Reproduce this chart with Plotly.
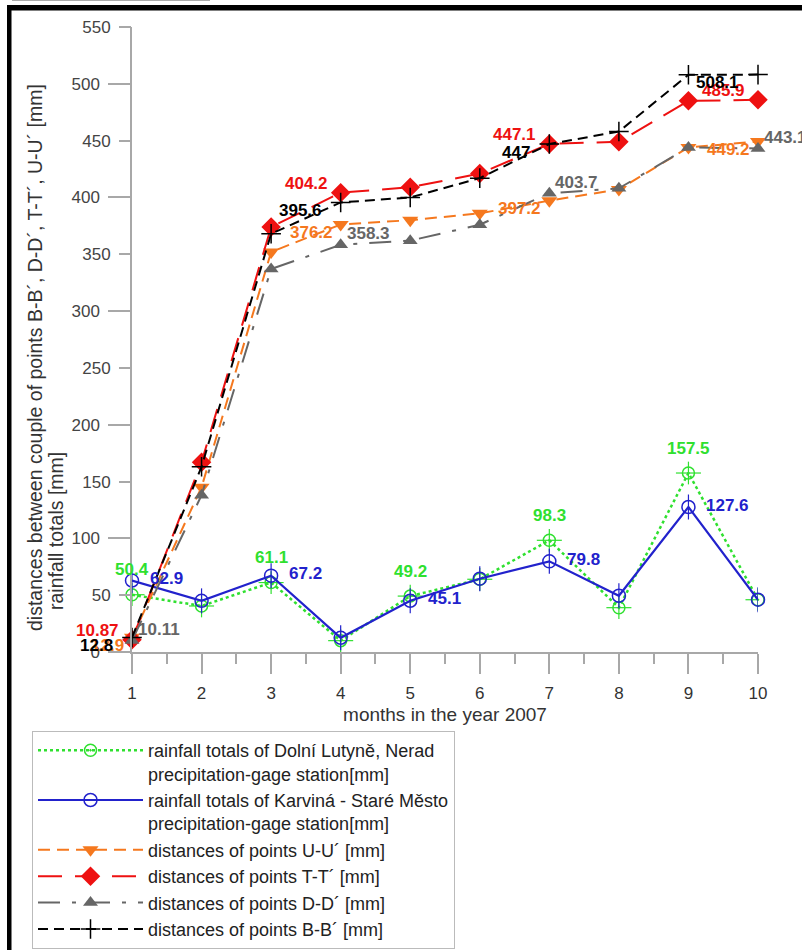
import plotly.graph_objects as go

# ---------------- data ----------------
months = [1, 2, 3, 4, 5, 6, 7, 8, 9, 10]
month_ticks = ["1", "2", "3", "4", "5", "6", "7", "8", "9", "10"]

dolni = [50.4, 40.5, 61.1, 10.0, 49.2, 64.0, 98.3, 39.0, 157.5, 46.0]
karvina = [62.9, 45.0, 67.2, 12.5, 45.1, 64.5, 79.8, 49.5, 127.6, 46.0]
uu = [12.9, 145.0, 352.0, 376.2, 380.0, 386.0, 397.2, 407.0, 444.0, 449.2]
tt = [10.87, 167.0, 374.0, 404.2, 409.0, 421.0, 447.1, 449.0, 485.0, 485.9]
dd = [10.11, 138.0, 337.0, 358.3, 362.0, 376.0, 403.7, 408.0, 444.0, 443.1]
bb = [12.8, 163.0, 368.0, 395.6, 400.0, 417.0, 447.0, 458.0, 508.0, 508.1]

rain_labeled = [0, 2, 4, 6, 8]
dist_labeled = [0, 3, 6, 9]

names = [
    "rainfall totals of Dolní Lutyně, Nerad<br>precipitation-gage station[mm]",
    "rainfall totals of Karviná - Staré Město<br>precipitation-gage station[mm]",
    "distances of points U-U´ [mm]",
    "distances of points T-T´ [mm]",
    "distances of points D-D´ [mm]",
    "distances of points B-B´ [mm]",
]

y_major = [0, 100, 200, 300, 400, 500]
y_minor = [50, 150, 250, 350, 450, 550]

# ---------------- styles ----------------
GREEN = "#2fe02f"
BLUE = "#2222cc"
ORANGE = "#f5781e"
RED = "#ee1111"
GRAY = "#666666"
BLACK = "#000000"
FONT = "Arial, Liberation Sans, sans-serif"

W, H = 802, 950
L, R, T, B = 132, 44, 27, 298
PW, PH = W - L - R, H - T - B


def px_x(px):
    return (px - L) / PW


def px_y(py):
    return (H - B - py) / PH


fig = go.Figure()

fig.add_trace(go.Scatter(
    x=months, y=dolni, name=names[0], mode="lines+markers", cliponaxis=False,
    line=dict(color=GREEN, width=2.5, dash="dot"),
    marker=dict(symbol="circle-open-dot", size=12, color=GREEN, line=dict(width=1.5, color=GREEN)),
    error_x=dict(type="constant", value=0.18, width=0, thickness=1.2, color=GREEN),
    error_y=dict(type="constant", value=10, width=0, thickness=1.2, color=GREEN),
))
fig.add_trace(go.Scatter(
    x=months, y=karvina, name=names[1], mode="lines+markers", cliponaxis=False,
    line=dict(color=BLUE, width=2.2),
    marker=dict(symbol="circle-open", size=13, color=BLUE, line=dict(width=1.5, color=BLUE)),
    error_y=dict(type="constant", value=11, width=0, thickness=1.2, color=BLUE),
))
fig.add_trace(go.Scatter(
    x=months, y=uu, name=names[2], mode="lines+markers", cliponaxis=False,
    line=dict(color=ORANGE, width=2, dash="12px,7px"),
    marker=dict(symbol="triangle-down", size=14, color=ORANGE),
))
fig.add_trace(go.Scatter(
    x=months, y=tt, name=names[3], mode="lines+markers", cliponaxis=False,
    line=dict(color=RED, width=2, dash="24px,13px"),
    marker=dict(symbol="diamond", size=15, color=RED),
))
fig.add_trace(go.Scatter(
    x=months, y=dd, name=names[4], mode="lines+markers", cliponaxis=False,
    line=dict(color=GRAY, width=2, dash="22px,12px,4px,12px"),
    marker=dict(symbol="triangle-up", size=13, color=GRAY),
))
fig.add_trace(go.Scatter(
    x=months, y=bb, name=names[5], mode="lines+markers", cliponaxis=False,
    line=dict(color=BLACK, width=2, dash="10px,6px"),
    marker=dict(symbol="cross-thin", size=14, color=BLACK, line=dict(width=1.5, color=BLACK)),
))

# invisible trace for the second (minor-label) y axis
fig.add_trace(go.Scatter(x=[months[0]], y=[y_minor[0]], yaxis="y2", mode="markers",
                         marker=dict(opacity=0), showlegend=False, hoverinfo="skip"))

# ---------------- value labels ----------------
label_specs = [
    (dolni, rain_labeled, GREEN, "center", 0, 25),
    (karvina, rain_labeled, BLUE, "left", 16, 2),
    (uu, dist_labeled, ORANGE, "right", -6, -8),
    (tt, dist_labeled, RED, "right", -11, 9),
    (dd, dist_labeled, GRAY, "left", 4, 11),
    (bb, dist_labeled, BLACK, "right", -17, -8),
]
annotations = []
for vals, idxs, col, anchor, dx, dy in label_specs:
    for i in idxs:
        annotations.append(dict(
            x=months[i], y=vals[i], xref="x", yref="y", text=f"{vals[i]:g}",
            showarrow=False, xanchor=anchor, yanchor="middle", xshift=dx, yshift=dy,
            font=dict(family=FONT, size=17, color=col, weight="bold"),
        ))

# y axis title (two lines)
annotations.append(dict(
    x=px_x(35), y=px_y(358), xref="paper", yref="paper", showarrow=False,
    text="distances between couple of points B-B´, D-D´, T-T´, U-U´ [mm]",
    textangle=-90, xanchor="center", yanchor="middle",
    font=dict(family=FONT, size=19.5, color="#333333"),
))
annotations.append(dict(
    x=px_x(56), y=px_y(612), xref="paper", yref="paper", showarrow=False,
    text="rainfall totals [mm]",
    textangle=-90, xanchor="center", yanchor="bottom",
    font=dict(family=FONT, size=19.5, color="#333333"),
))

# ---------------- frame shapes ----------------
shapes = [
    dict(type="rect", xref="paper", yref="paper", x0=px_x(7), x1=px_x(11.5),
         y0=px_y(950), y1=px_y(5), fillcolor="black", line=dict(width=0), layer="above"),
    dict(type="rect", xref="paper", yref="paper", x0=px_x(7), x1=px_x(802),
         y0=px_y(10.5), y1=px_y(5), fillcolor="black", line=dict(width=0), layer="above"),
    dict(type="line", xref="paper", yref="paper", x0=px_x(12), x1=px_x(210),
         y0=px_y(0.5), y1=px_y(0.5), line=dict(color="#aaaaaa", width=1)),
]

AXC = "#a8a8a8"
fig.update_layout(
    width=W, height=H,
    margin=dict(l=L, r=R, t=T, b=B, pad=0, autoexpand=False),
    paper_bgcolor="white", plot_bgcolor="white",
    font=dict(family=FONT, color="#333333"),
    showlegend=True,
    legend=dict(
        x=px_x(32), y=px_y(731), xanchor="left", yanchor="top",
        bordercolor="#bbbbbb", borderwidth=1, bgcolor="white",
        font=dict(family=FONT, size=18, color="#222222"),
        itemwidth=105, valign="top", tracegroupgap=0,
    ),
    xaxis=dict(
        range=[1, 10], tickvals=months, ticktext=month_ticks,
        showline=True, linecolor=AXC, linewidth=1.5, zeroline=False, showgrid=False,
        ticks="outside", ticklen=20, tickcolor=AXC, tickwidth=1.5,
        minor=dict(ticks="outside", ticklen=10, dtick=0.5, tick0=1, tickcolor=AXC, tickwidth=1.5),
        tickfont=dict(family=FONT, size=17, color="#333333"),
        ticklabelstandoff=5,
        title=dict(text="months in the year 2007", standoff=6,
                   font=dict(family=FONT, size=19, color="#333333")),
    ),
    yaxis=dict(
        range=[0, 550], tickvals=y_major,
        showline=True, linecolor=AXC, linewidth=1.5, zeroline=False, showgrid=False,
        ticks="outside", ticklen=22, tickcolor=AXC, tickwidth=1.5,
        tickfont=dict(family=FONT, size=17, color="#444444"),
        ticklabelstandoff=5,
    ),
    yaxis2=dict(
        range=[0, 550], tickvals=y_minor, overlaying="y", side="left", anchor="x",
        showline=False, zeroline=False, showgrid=False,
        ticks="outside", ticklen=12, tickcolor=AXC, tickwidth=1.5,
        tickfont=dict(family=FONT, size=17, color="#444444"),
        ticklabelstandoff=5,
    ),
    annotations=annotations,
    shapes=shapes,
)

fig.write_html(
    "out.html",
    config={"displayModeBar": False},
    post_script="document.body.style.margin='0px';document.body.style.overflow='hidden';",
)
